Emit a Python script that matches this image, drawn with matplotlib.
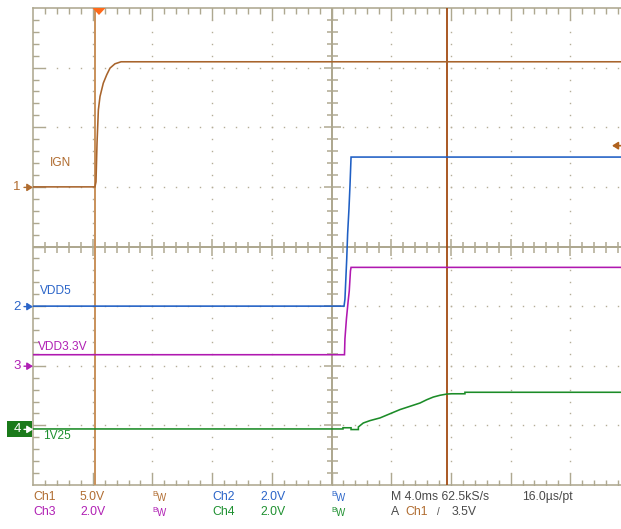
import matplotlib
matplotlib.use("Agg")
import matplotlib.pyplot as plt
from matplotlib.patches import Rectangle, Polygon, FancyArrowPatch

# ---------------- data (time in ms from left screen edge, volts) ----------------
ign_t = [0.0, 4.15, 4.22, 4.29, 4.38, 4.49, 4.71, 4.94, 5.16, 5.49, 5.90, 39.4]
ign_v = [0.0, 0.0, 0.42, 3.69, 6.46, 7.58, 8.70, 9.40, 9.96, 10.32, 10.49, 10.49]

ydd5_t = [0.0, 20.84, 20.90, 21.02, 21.08, 21.17, 21.24, 21.31, 39.4]
ydd5_v = [0.0, 0.0, 0.23, 1.58, 2.42, 3.26, 4.06, 5.0, 5.0]

ydd33_t = [0.0, 20.87, 20.90, 21.00, 21.11, 21.19, 21.27, 21.31, 39.4]
ydd33_v = [0.37, 0.37, 0.90, 1.57, 2.14, 2.51, 3.18, 3.30, 3.30]

v125_t = [0.0, 20.77, 20.77, 21.31, 21.31, 21.80, 21.80, 22.13, 22.58, 23.25, 23.92,
          24.59, 25.26, 25.93, 26.38, 26.82, 27.27, 27.72, 28.05, 28.94, 28.94, 39.4]
v125_v = [0.0, 0.0, 0.04, 0.04, -0.02, -0.02, 0.067, 0.20, 0.28, 0.37, 0.51,
          0.65, 0.76, 0.87, 0.98, 1.07, 1.13, 1.17, 1.18, 1.18, 1.23, 1.23]

channels = ["Ch1", "Ch2", "Ch3", "Ch4"]
names = ["IGN", "VDD5", "VDD3.3V", "1V25"]
volts_per_div = [5.0, 2.0, 2.0, 2.0]
ground_div = [1.0, -1.0, -2.0, -3.06]
colors = ["#a8642c", "#1f5fc4", "#b018b0", "#1c8c28"]
text_colors = ["#b06c30", "#2a64c8", "#b020b4", "#1e9030"]

ms_per_div = 4.0
cursor_t = [4.15, 27.72]
trigger_level = 3.5

# ---------------- figure ----------------
W, H = 621, 529
fig = plt.figure(figsize=(W / 100, H / 100), dpi=100)
fig.patch.set_facecolor("white")
ax = fig.add_axes([33 / W, 44 / H, 588 / W, 477 / H])
ax.set_xlim(0, 588 / 59.7 * ms_per_div)
ax.set_ylim(-4, 4)
ax.axis("off")

FRAME = "#aea890"
DOT = "#b4ae98"
PT = 72 / 100  # points per pixel

# dotted grid
for k in range(1, 10):
    if k == 5:
        continue
    ys = [-4 + 0.2 * i for i in range(1, 40)]
    ax.plot([k * ms_per_div] * len(ys), ys, ls="none", marker="s", ms=1.4 * PT,
            mec="none", color=DOT)
for j in range(-3, 4):
    if j == 0:
        continue
    xs = [0.8 * i for i in range(1, 50)]
    ax.plot(xs, [j] * len(xs), ls="none", marker="s", ms=1.4 * PT, mec="none", color=DOT)

# centre cross
ax.axvline(5 * ms_per_div, color=FRAME, lw=2.0 * PT)
ax.axhline(0, color=FRAME, lw=2.0 * PT)
minor_x = [0.8 * i for i in range(1, 50) if i % 5]
major_x = [4.0 * i for i in range(1, 10)]
minor_y = [-4 + 0.2 * i for i in range(1, 40) if i % 5]
major_y = [float(j) for j in range(-3, 4)]
ax.plot(minor_x, [0] * len(minor_x), ls="none", marker="|", ms=11 * PT, mew=1.5 * PT, color=FRAME)
ax.plot(major_x, [0] * len(major_x), ls="none", marker="|", ms=17 * PT, mew=1.5 * PT, color=FRAME)
ax.plot([20] * len(minor_y), minor_y, ls="none", marker="_", ms=11 * PT, mew=1.5 * PT, color=FRAME)
ax.plot([20] * len(major_y), major_y, ls="none", marker="_", ms=17 * PT, mew=1.5 * PT, color=FRAME)

# border with inward ticks
ax.plot([0, 0], [-4, 4], color=FRAME, lw=1.6 * PT, clip_on=False)
ax.plot([0, 40], [4, 4], color=FRAME, lw=1.6 * PT, clip_on=False)
ax.plot([0, 40], [-4, -4], color=FRAME, lw=1.6 * PT, clip_on=False)
for yb in (4, -4):
    ax.plot(minor_x, [yb] * len(minor_x), ls="none", marker="|", ms=11 * PT, mew=1.4 * PT, color=FRAME)
    ax.plot(major_x, [yb] * len(major_x), ls="none", marker="|", ms=24 * PT, mew=1.4 * PT, color=FRAME)
ax.plot([0] * len(minor_y), minor_y, ls="none", marker="_", ms=11 * PT, mew=1.4 * PT, color=FRAME)
ax.plot([0] * len(major_y), major_y, ls="none", marker="_", ms=24 * PT, mew=1.4 * PT, color=FRAME)

# cursors
ax.axvline(cursor_t[0], color="#c9935e", lw=2.0 * PT, zorder=3)
ax.axvline(cursor_t[1], color="#a24a12", lw=1.8 * PT, zorder=3)

# traces
series = [(ign_t, ign_v), (ydd5_t, ydd5_v), (ydd33_t, ydd33_v), (v125_t, v125_v)]
for (t, v), g, s, c in zip(series, ground_div, volts_per_div, colors):
    ax.plot(t, [g + vv / s for vv in v], color=c, lw=1.6 * PT, zorder=4,
            solid_joinstyle="miter")

FONT = ["Liberation Sans", "DejaVu Sans"]


def px(x, y):
    return x / W, 1 - y / H


def fig_arrow(x0, x1, y, color, lw=1.0, hw=0.18):
    a = FancyArrowPatch(px(x0, y), px(x1, y), transform=fig.transFigure,
                        arrowstyle="-|>,head_length=3.5,head_width=2.2",
                        color=color, lw=lw, shrinkA=0, shrinkB=0, zorder=6,
                        mutation_scale=1)
    fig.add_artist(a)


# channel labels on the graticule
label_pos = [(50, 163), (40, 291), (38, 347), (43, 436)]
for nm, (x, y), c in zip(names, label_pos, text_colors):
    fig.text(*px(x, y), nm, color=c, fontsize=8.6, family=FONT, va="center", ha="left")

# ground markers on the left
for i, (g, c) in enumerate(zip(ground_div, text_colors)):
    y = 247 - g * 59.6
    if i == 3:
        box = Rectangle(px(7, 437), 25 / W, 16 / H, transform=fig.transFigure,
                        facecolor="#1a7a1a", edgecolor="none", zorder=5)
        fig.add_artist(box)
        tc = "white"
    else:
        tc = c
    fig.text(*px(17, y), str(i + 1), color=tc, fontsize=9.5, family=FONT,
             va="center", ha="center", zorder=7)
    fig_arrow(24, 33, y, tc)

# trigger position marker (top) and trigger level marker (right)
tri = Polygon([px(92.5, 8), px(105.5, 8), px(99, 15)], closed=True,
              transform=fig.transFigure, facecolor="#ff6a1a", edgecolor="none", zorder=6)
fig.add_artist(tri)
ty = 247 - (ground_div[0] + trigger_level / volts_per_div[0]) * 59.6
fig_arrow(621, 612, ty, "#b0621e", lw=1.2)

# bottom readout
r1, r2 = 497, 512
fs = 8.8
fig.text(*px(33, r1), "Ch1", color=text_colors[0], fontsize=fs, family=FONT, va="center")
fig.text(*px(80, r1), "5.0V", color=text_colors[0], fontsize=fs, family=FONT, va="center")
fig.text(*px(33, r2), "Ch3", color=text_colors[2], fontsize=fs, family=FONT, va="center")
fig.text(*px(80, r2), "2.0V", color=text_colors[2], fontsize=fs, family=FONT, va="center")
fig.text(*px(212, r1), "Ch2", color=text_colors[1], fontsize=fs, family=FONT, va="center")
fig.text(*px(260, r1), "2.0V", color=text_colors[1], fontsize=fs, family=FONT, va="center")
fig.text(*px(212, r2), "Ch4", color=text_colors[3], fontsize=fs, family=FONT, va="center")
fig.text(*px(260, r2), "2.0V", color=text_colors[3], fontsize=fs, family=FONT, va="center")
for (bx, by, c) in [(152, r1, text_colors[0]), (152, r2, text_colors[2]),
                    (331, r1, text_colors[1]), (331, r2, text_colors[3])]:
    fig.text(*px(bx, by - 2), "B", color=c, fontsize=5.5, family=FONT, va="center")
    fig.text(*px(bx + 4.5, by + 1), "W", color=c, fontsize=7, family=FONT, va="center")
GRAY = "#4a4a4a"
fig.text(*px(391, r1), "M 4.0ms 62.5kS/s", color=GRAY, fontsize=fs, family=FONT, va="center")
fig.text(*px(522, r1), "16.0\u00b5s/pt", color=GRAY, fontsize=fs, family=FONT, va="center")
fig.text(*px(391, r2), "A", color=GRAY, fontsize=fs, family=FONT, va="center")
fig.text(*px(405, r2), "Ch1", color=text_colors[0], fontsize=fs, family=FONT, va="center")
fig.text(*px(437, r2), "/", color=GRAY, fontsize=7, family=FONT, va="center")
fig.text(*px(452, r2), "3.5V", color=GRAY, fontsize=fs, family=FONT, va="center")

fig.savefig("out.png", dpi=100, facecolor="white")
